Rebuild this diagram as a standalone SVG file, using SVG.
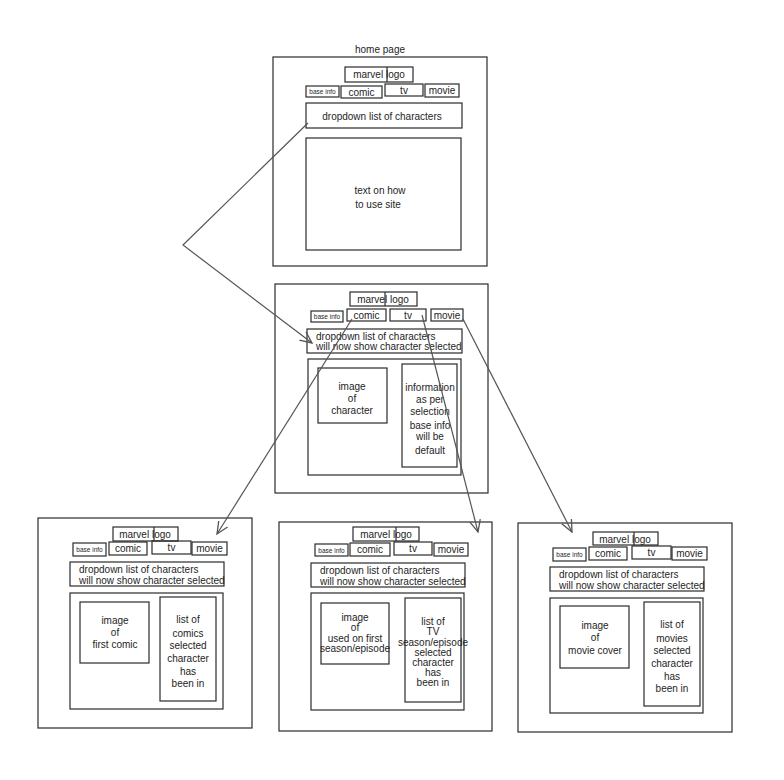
<svg xmlns="http://www.w3.org/2000/svg" width="784" height="780" viewBox="0 0 784 780">
<defs>
<style>
.b{fill:none;stroke:#2b2b2b;stroke-width:1.2}
.t{font-family:"Liberation Sans",Arial,sans-serif;fill:#1e1e1e;text-anchor:middle;font-size:10px}
.l{text-anchor:start}
.s{font-size:6.5px}
.c{stroke:#555;stroke-width:1.2;fill:none}
</style>
<marker id="ah" viewBox="0 0 12 12" refX="11" refY="6" markerWidth="13" markerHeight="13" markerUnits="userSpaceOnUse" orient="auto">
<path d="M0,1 L11,6 L0,11" fill="none" stroke="#555" stroke-width="1.2"/>
</marker>
</defs>
<rect width="784" height="780" fill="#ffffff"/>

<g id="home-page">
<text class="t" x="380" y="53">home page</text>
<rect class="b" x="273" y="57" width="214" height="209"/>
<g id="home-logo"><rect class="b" x="345" y="67" width="68" height="15"/><line class="b" x1="387" y1="67" x2="387" y2="82"/><text class="t" x="379" y="78" font-size="10.5">marvel logo</text></g>
<g id="home-base"><rect class="b" x="306" y="86" width="33" height="11"/><text class="t s" x="322.5" y="94">base info</text></g>
<g id="home-comic"><rect class="b" x="341" y="86" width="41" height="12"/><text class="t" x="361.5" y="95.5">comic</text></g>
<g id="home-tv"><rect class="b" x="385" y="84" width="38" height="12"/><text class="t" x="404" y="93.5">tv</text></g>
<g id="home-movie"><rect class="b" x="425" y="84" width="34" height="13"/><text class="t" x="442" y="94">movie</text></g>
<g id="home-dropdown"><rect class="b" x="306" y="103" width="156" height="25"/><text class="t" x="382" y="119.5" font-size="12.5">dropdown list of characters</text></g>
<g id="home-content"><rect class="b" x="306" y="138" width="155" height="112"/><text class="t" x="380" y="194" font-size="12">text on how</text><text class="t" x="378" y="208" font-size="12">to use site</text></g>
</g>

<g id="character-page">
<rect class="b" x="275" y="284" width="213" height="209"/>
<g id="char-logo"><rect class="b" x="350" y="292" width="67" height="14"/><line class="b" x1="385" y1="292" x2="385" y2="306"/><text class="t" x="383" y="303" font-size="10.5">marvel logo</text></g>
<g id="char-base"><rect class="b" x="311" y="311" width="32" height="11"/><text class="t s" x="327" y="319">base info</text></g>
<g id="char-comic"><rect class="b" x="347" y="309" width="39" height="12"/><text class="t" x="366.5" y="318.5">comic</text></g>
<g id="char-tv"><rect class="b" x="390" y="309" width="36" height="12"/><text class="t" x="408" y="318.5">tv</text></g>
<g id="char-movie"><rect class="b" x="431" y="309" width="32" height="12"/><text class="t" x="447" y="318.5">movie</text></g>
<g id="char-dropdown"><rect class="b" x="307" y="329" width="155" height="24"/><text class="t l" x="316" y="339.5" font-size="9">dropdown list of characters</text><text class="t l" x="316" y="350" font-size="9">will now show character selected</text></g>
<g id="char-content"><rect class="b" x="308" y="359" width="153" height="116"/></g>
<g id="char-image"><rect class="b" x="318" y="368" width="69" height="55"/><text class="t" x="352" y="390" font-size="10.5">image</text><text class="t" x="352" y="402" font-size="10.5">of</text><text class="t" x="352" y="414" font-size="10.5">character</text></g>
<g id="char-info"><rect class="b" x="402" y="364" width="55" height="103"/><text class="t" x="430" y="391" font-size="10">information</text><text class="t" x="430" y="403" font-size="10">as per</text><text class="t" x="430" y="415" font-size="10">selection</text><text class="t" x="430" y="429" font-size="10">base info</text><text class="t" x="430" y="440" font-size="10">will be</text><text class="t" x="430" y="454" font-size="10">default</text></g>
</g>

<g id="comic-page">
<rect class="b" x="38" y="518" width="214" height="210"/>
<g id="comic-logo"><rect class="b" x="113" y="527" width="65" height="14"/><line class="b" x1="154" y1="527" x2="154" y2="541"/><text class="t" x="145" y="538" font-size="10.5">marvel logo</text></g>
<g id="comic-base"><rect class="b" x="73" y="543" width="33" height="13"/><text class="t s" x="89.5" y="552">base info</text></g>
<g id="comic-comic"><rect class="b" x="109" y="542" width="38" height="13"/><text class="t" x="128" y="552">comic</text></g>
<g id="comic-tv"><rect class="b" x="152" y="541" width="39" height="13"/><text class="t" x="171.5" y="551">tv</text></g>
<g id="comic-movie"><rect class="b" x="192" y="542" width="35" height="13"/><text class="t" x="209.5" y="552">movie</text></g>
<g id="comic-dropdown"><rect class="b" x="70" y="562" width="154" height="24"/><text class="t l" x="79" y="573" font-size="9">dropdown list of characters</text><text class="t l" x="79" y="583.5" font-size="9">will now show character selected</text></g>
<g id="comic-content"><rect class="b" x="70" y="593" width="153" height="116"/></g>
<g id="comic-image"><rect class="b" x="80" y="602" width="69" height="61"/><text class="t" x="115" y="624" font-size="10.5">image</text><text class="t" x="115" y="636" font-size="10.5">of</text><text class="t" x="115" y="648" font-size="10.5">first comic</text></g>
<g id="comic-list"><rect class="b" x="160" y="597" width="56" height="104"/><text class="t" x="188" y="623" font-size="10.5">list of</text><text class="t" x="188" y="637" font-size="10.5">comics</text><text class="t" x="188" y="649" font-size="10.5">selected</text><text class="t" x="188" y="662" font-size="10.5">character</text><text class="t" x="188" y="675" font-size="10.5">has</text><text class="t" x="188" y="687" font-size="10.5">been in</text></g>
</g>

<g id="tv-page">
<rect class="b" x="279" y="522" width="213" height="209"/>
<g id="tv-logo"><rect class="b" x="353" y="527" width="66" height="14"/><line class="b" x1="396" y1="527" x2="396" y2="541"/><text class="t" x="386" y="538" font-size="10.5">marvel logo</text></g>
<g id="tv-base"><rect class="b" x="315" y="544" width="33" height="12"/><text class="t s" x="331.5" y="552.5">base info</text></g>
<g id="tv-comic"><rect class="b" x="350" y="543" width="40" height="13"/><text class="t" x="370" y="553">comic</text></g>
<g id="tv-tv"><rect class="b" x="394" y="542" width="38" height="13"/><text class="t" x="413" y="552">tv</text></g>
<g id="tv-movie"><rect class="b" x="434" y="543" width="34" height="13"/><text class="t" x="451" y="553">movie</text></g>
<g id="tv-dropdown"><rect class="b" x="311" y="563" width="154" height="24"/><text class="t l" x="320" y="574" font-size="9">dropdown list of characters</text><text class="t l" x="320" y="584.5" font-size="9">will now show character selected</text></g>
<g id="tv-content"><rect class="b" x="311" y="593" width="153" height="117"/></g>
<g id="tv-image"><rect class="b" x="321" y="603" width="68" height="61"/><text class="t" x="355" y="621" font-size="9">image</text><text class="t" x="355" y="631" font-size="9">of</text><text class="t" x="355" y="641.5" font-size="9">used on first</text><text class="t" x="355" y="651.5" font-size="8.5">season/episode</text></g>
<g id="tv-list"><rect class="b" x="405" y="598" width="56" height="104"/><text class="t" x="433" y="625" font-size="9">list of</text><text class="t" x="433" y="635" font-size="9">TV</text><text class="t" x="433" y="646" font-size="8">season/episode</text><text class="t" x="433" y="656" font-size="9">selected</text><text class="t" x="433" y="666" font-size="9">character</text><text class="t" x="433" y="676" font-size="9">has</text><text class="t" x="433" y="686" font-size="9">been in</text></g>
</g>

<g id="movie-page">
<rect class="b" x="518" y="523" width="214" height="209"/>
<g id="movie-logo"><rect class="b" x="593" y="532" width="65" height="13"/><line class="b" x1="634" y1="532" x2="634" y2="545"/><text class="t" x="625" y="542.5" font-size="10.5">marvel logo</text></g>
<g id="movie-base"><rect class="b" x="553" y="548" width="33" height="13"/><text class="t s" x="569.5" y="557">base info</text></g>
<g id="movie-comic"><rect class="b" x="589" y="547" width="38" height="13"/><text class="t" x="608" y="557">comic</text></g>
<g id="movie-tv"><rect class="b" x="632" y="546" width="39" height="13"/><text class="t" x="651.5" y="556">tv</text></g>
<g id="movie-movie"><rect class="b" x="672" y="547" width="35" height="13"/><text class="t" x="689.5" y="557">movie</text></g>
<g id="movie-dropdown"><rect class="b" x="550" y="567" width="154" height="24"/><text class="t l" x="559" y="578" font-size="9">dropdown list of characters</text><text class="t l" x="559" y="588.5" font-size="9">will now show character selected</text></g>
<g id="movie-content"><rect class="b" x="550" y="598" width="153" height="115"/></g>
<g id="movie-image"><rect class="b" x="560" y="606" width="69" height="62"/><text class="t" x="595" y="629" font-size="10.5">image</text><text class="t" x="595" y="641" font-size="10.5">of</text><text class="t" x="595" y="654" font-size="10.5">movie cover</text></g>
<g id="movie-list"><rect class="b" x="644" y="602" width="56" height="104"/><text class="t" x="672" y="628" font-size="10.5">list of</text><text class="t" x="672" y="642" font-size="10.5">movies</text><text class="t" x="672" y="654" font-size="10.5">selected</text><text class="t" x="672" y="667" font-size="10.5">character</text><text class="t" x="672" y="680" font-size="10.5">has</text><text class="t" x="672" y="692" font-size="10.5">been in</text></g>
</g>

<g id="connectors">
<polyline class="c" points="308,123 183,245 312,343" marker-end="url(#ah)"/>
<line class="c" x1="352" y1="319" x2="217" y2="534" marker-end="url(#ah)"/>
<line class="c" x1="422" y1="315" x2="478" y2="532" marker-end="url(#ah)"/>
<line class="c" x1="463" y1="319" x2="572" y2="532" marker-end="url(#ah)"/>
</g>
</svg>
